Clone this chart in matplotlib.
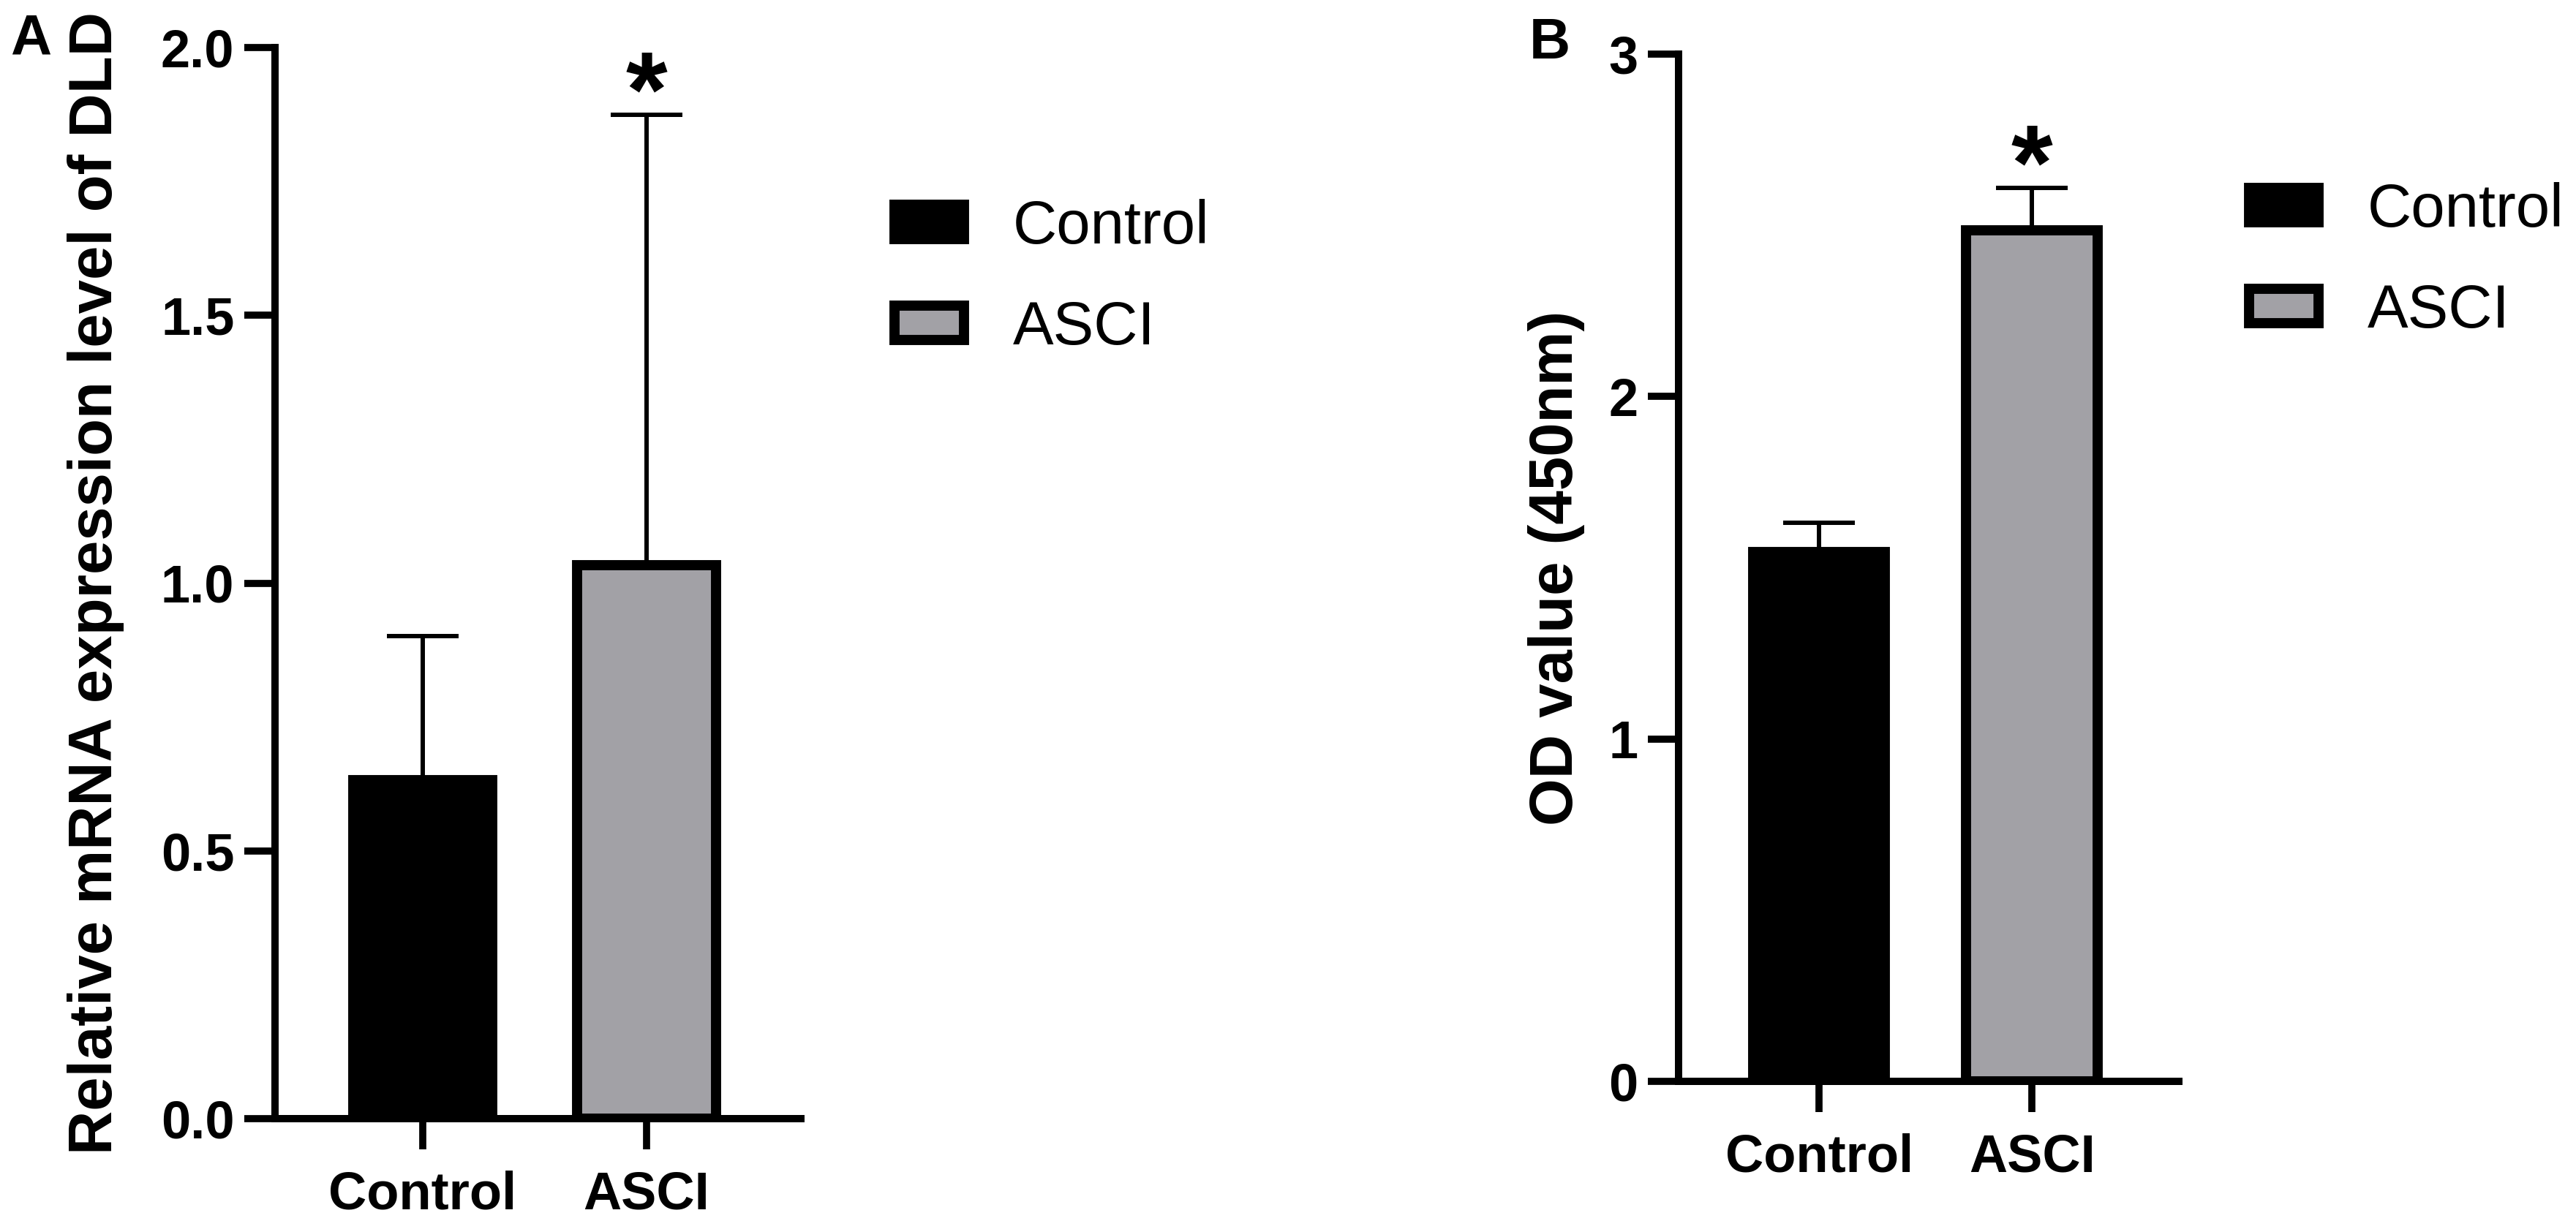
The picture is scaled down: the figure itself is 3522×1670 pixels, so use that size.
import matplotlib

matplotlib.use("Agg")
import matplotlib.pyplot as plt
import numpy as np
from matplotlib.patches import Patch

plt.rcParams["font.family"] = ["Liberation Sans", "DejaVu Sans"]

groups = ["Control", "ASCI"]
bar_colors = ["#000000", "#a2a1a6"]

# panel A: relative mRNA expression of DLD (mean, upper SD)
mrna_mean = [0.632, 1.033]
mrna_sd = [0.269, 0.841]
mrna_ticks = [0.0, 0.5, 1.0, 1.5, 2.0]
mrna_tick_labels = ["0.0", "0.5", "1.0", "1.5", "2.0"]

# panel B: OD value at 450 nm (mean, upper SD)
od_mean = [1.546, 2.486]
od_sd = [0.085, 0.123]
od_ticks = [0, 1, 2, 3]
od_tick_labels = ["0", "1", "2", "3"]

significance = ["", "*"]

W, H = 3522, 1670
fig = plt.figure(figsize=(W / 100, H / 100), dpi=100)


def draw_panel(rect, means, sds, ticks, tick_labels, ylabel, label_x, legend_anchor):
    ax = fig.add_axes(rect)
    x = np.arange(len(groups))
    ax.bar(
        x,
        means,
        width=0.62,
        color=bar_colors,
        edgecolor="black",
        linewidth=10,
        zorder=3,
    )
    ax.errorbar(
        x,
        means,
        yerr=[np.zeros(len(sds)), sds],
        fmt="none",
        ecolor="black",
        elinewidth=4.3,
        capsize=35,
        capthick=4.3,
        zorder=2,
    )
    for xi, m, s, mark in zip(x, means, sds, significance):
        if mark:
            ax.annotate(
                mark,
                xy=(xi, m + s),
                xytext=(0, -11),
                textcoords="offset points",
                ha="center",
                va="baseline",
                fontsize=105,
                fontweight="bold",
            )

    ax.set_xlim(-0.66, 1.69)
    ax.set_ylim(ticks[0], ticks[-1])
    ax.set_yticks(ticks)
    ax.set_yticklabels(tick_labels)
    ax.set_xticks(x)
    ax.set_xticklabels(groups)

    for side in ["top", "right"]:
        ax.spines[side].set_visible(False)
    for side in ["left", "bottom"]:
        ax.spines[side].set_linewidth(7.2)
        ax.spines[side].set_capstyle("projecting")

    ax.tick_params(axis="y", length=30, width=7, pad=10, labelsize=52)
    ax.tick_params(axis="x", length=30, width=7, pad=21, labelsize=52)
    for lab in ax.get_xticklabels() + ax.get_yticklabels():
        lab.set_fontweight("bold")

    ax.set_ylabel(ylabel, fontsize=60, fontweight="bold")
    ax.yaxis.set_label_coords(label_x, 0.5)

    handles = [
        Patch(facecolor=c, edgecolor="black", linewidth=10, label=g)
        for c, g in zip(bar_colors, groups)
    ]
    ax.legend(
        handles=handles,
        loc="upper left",
        bbox_to_anchor=legend_anchor,
        bbox_transform=fig.transFigure,
        frameon=False,
        fontsize=60,
        borderpad=0,
        borderaxespad=0,
        handlelength=1.145,
        handleheight=0.48,
        handletextpad=0.8,
        labelspacing=0.72,
    )
    return ax


draw_panel(
    [376 / W, 1 - 1530 / H, 719 / W, (1530 - 65) / H],
    mrna_mean,
    mrna_sd,
    mrna_ticks,
    mrna_tick_labels,
    "Relative mRNA expression level of DLD",
    -0.2865,
    (1223 / W, 1 - 272 / H),
)

draw_panel(
    [2295 / W, 1 - 1479 / H, 684 / W, (1479 - 74) / H],
    od_mean,
    od_sd,
    od_ticks,
    od_tick_labels,
    "OD value (450nm)",
    -0.187,
    (3075 / W, 1 - 249 / H),
)

fig.text(14 / W, 1 - 18 / H, "A", fontsize=56, fontweight="bold", ha="left", va="top")
fig.text(2091 / W, 1 - 23 / H, "B", fontsize=56, fontweight="bold", ha="left", va="top")

fig.savefig("out.png", dpi=100, facecolor="white")
plt.close(fig)
